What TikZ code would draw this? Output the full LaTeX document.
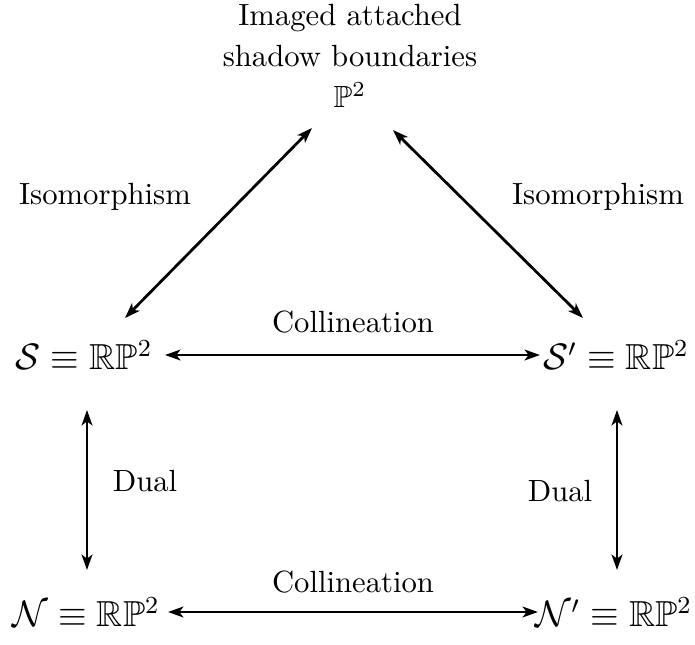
\documentclass[tikz,border=0pt]{standalone}
\usepackage{amsmath,amssymb}
\usetikzlibrary{arrows.meta}
\tikzset{
  lbl/.style={inner sep=0pt, font=\fontsize{10}{13.4}\selectfont},
  obj/.style={inner sep=0pt, font=\fontsize{11.8}{14}\selectfont},
  tip/.style={Stealth[length=5pt,width=3.5pt,inset=1.3pt]},
  conn/.style={line width=0.9pt, {Stealth[length=5pt,width=3.5pt,inset=1.3pt]}-{Stealth[length=5pt,width=3.5pt,inset=1.3pt]}},
}
\begin{document}
\begin{tikzpicture}[x=0.326pt,y=-0.326pt]
\useasboundingbox (0,0) rectangle (695,645);
% nodes
\node[lbl, align=center] (top) at (350,56) {Imaged attached\\shadow boundaries\\$\mathbb{P}^2$};
\node[obj] (s) at (84,355) {$\mathcal{S}\equiv\mathbb{R}\mathbb{P}^2$};
\node[obj] (sp) at (616,355) {$\mathcal{S}'\equiv\mathbb{R}\mathbb{P}^2$};
\node[obj] (n) at (86,612) {$\mathcal{N}\equiv\mathbb{R}\mathbb{P}^2$};
\node[obj] (np) at (614,612) {$\mathcal{N}'\equiv\mathbb{R}\mathbb{P}^2$};
% connector end points
\coordinate (dl1) at (125,318);
\coordinate (dl2) at (312,128);
\coordinate (dr1) at (393,130);
\coordinate (dr2) at (583,318);
\coordinate (vl1) at (87,410);
\coordinate (vl2) at (87,570);
\coordinate (vr1) at (617,410);
\coordinate (vr2) at (617,570);
\coordinate (hs1) at (165,355);
\coordinate (hs2) at (540,355);
\coordinate (hn1) at (168,612);
\coordinate (hn2) at (538,612);
% connectors
\draw[conn] (dl1) -- (dl2);
\draw[conn] (dr1) -- (dr2);
\draw[conn] (vl1) -- (vl2);
\draw[conn] (vr1) -- (vr2);
\draw[conn] (hs1) -- (hs2);
\draw[conn] (hn1) -- (hn2);
% labels
\node[lbl] (l1) at (105,197) {Isomorphism};
\node[lbl] (l2) at (598,197) {Isomorphism};
\node[lbl] (l3) at (353,322) {Collineation};
\node[lbl] (l4) at (353,582) {Collineation};
\node[lbl] (l5) at (145,481) {Dual};
\node[lbl] (l6) at (560,491) {Dual};
\end{tikzpicture}
\end{document}
